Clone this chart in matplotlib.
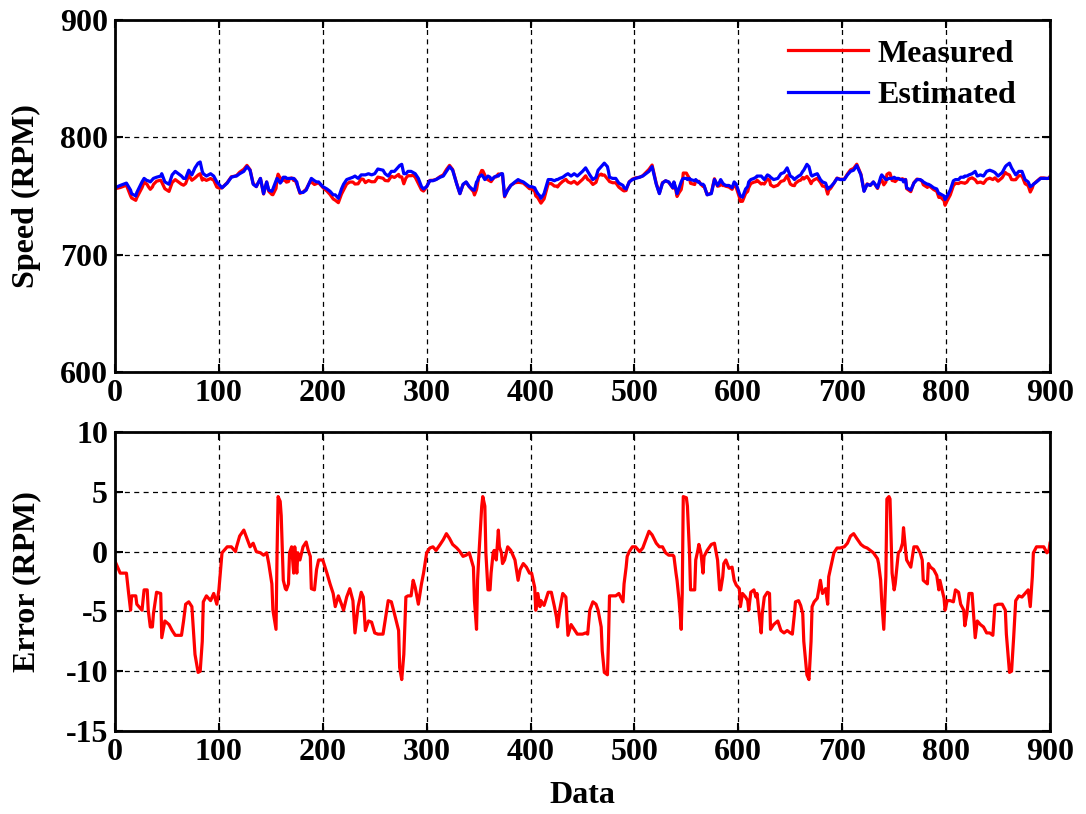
import numpy as np
import matplotlib
matplotlib.use("Agg")
import matplotlib.pyplot as plt

plt.rcParams['font.family'] = ['Liberation Serif', 'DejaVu Serif']
plt.rcParams['font.weight'] = 'bold'
plt.rcParams['axes.labelweight'] = 'bold'
plt.rcParams['axes.unicode_minus'] = False

# ---- data ----
sample_idx = [
    0, 5, 11, 13, 15, 16, 20, 21, 26, 28,
    31, 32, 34, 36, 37, 40, 44, 45, 48, 52,
    55, 58, 64, 66, 68, 71, 74, 76, 77, 80,
    82, 84, 85, 88, 92, 95, 98, 100,
    103, 108, 112, 116, 117, 120, 124, 127, 130, 133,
    136, 140, 143, 146, 148, 151, 152, 155, 156, 157,
    159, 160, 162, 164, 165, 167, 168, 170, 172, 173,
    175, 176, 178, 181, 184, 186, 188, 189, 192, 194,
    196,
    200, 204, 207, 210, 212, 215, 218, 220, 223, 226,
    229, 231, 234, 237, 239, 241, 244, 247, 250, 253,
    258, 260, 263, 266, 269, 273, 274, 276, 278, 280,
    282, 285, 287, 289, 292, 295, 297, 300, 303, 306,
    309, 313, 316, 319, 322, 325, 329, 332, 335, 338,
    341, 345, 346, 348, 349, 350, 353, 354, 356, 357,
    359, 361, 362, 364, 365, 367, 369, 370, 372, 373,
    375, 378, 381, 385, 388, 390, 393, 396, 399,
    401, 404, 405, 407, 409, 410, 413, 417, 420, 423,
    425, 426, 428, 431, 434, 436, 439, 442, 445, 450,
    453, 455, 457, 460, 463, 465, 468, 469, 471, 474,
    475, 476, 479, 482, 485, 489, 490, 492, 493, 495,
    498, 501, 505, 508, 511, 514, 517, 521, 524, 527,
    530, 533, 537, 538, 540, 541, 543, 545, 546, 547,
    550, 551, 553, 554, 558, 559, 561, 562, 564, 566,
    567, 570, 574, 577, 580, 582,
    583, 585, 586, 588, 591, 594, 596, 598, 601, 602,
    604, 607, 609, 610, 612, 615, 617, 618, 620, 622,
    623, 625, 628, 630, 631, 634, 638, 641, 644, 647,
    650, 652, 654, 655, 658, 660, 662, 663, 666, 668,
    670, 671, 673, 676, 679, 681, 684, 686, 687, 689,
    692, 695, 698, 702, 705, 708, 711, 714, 718, 721,
    724, 727, 730, 734, 735, 737, 738, 740, 742, 743,
    745, 746, 748, 750, 751, 753, 754, 756, 758, 759,
    761, 762, 766, 769, 772, 775, 777, 778, 782, 783,
    785, 788, 791, 793, 794, 798, 799, 801, 804, 807,
    809, 812, 814, 817, 818, 820, 822, 825, 828, 830,
    833, 836, 839, 842, 845, 847, 850, 854, 857, 858,
    861, 863, 865, 867, 870, 873, 876, 879, 881, 883,
    884, 887, 891, 894, 897, 899, 900,
]

error_rpm = [
    -0.8, -1.8, -1.8, -3.4, -4.9, -3.7, -3.7, -4.4, -4.9, -3.2,
    -3.2, -4.9, -6.3, -6.3, -5.2, -3.4, -3.5, -7.2, -5.8, -6.1,
    -6.6, -7.0, -7.0, -5.8, -4.4, -4.2, -4.6, -7.2, -8.6, -10.1,
    -10.0, -7.5, -4.2, -3.7, -4.1, -3.5, -4.4, -3.2,
    -0.1, 0.4, 0.4, 0.0, 0.4, 1.3, 1.8, 1.1, 0.4, 0.7,
    0.0, -0.1, -0.3, -0.1, -1.0, -2.7, -4.9, -6.5, -0.1, 4.6,
    4.2, 3.0, -2.4, -3.1, -3.2, -2.7, -0.1, 0.4, -1.8, 0.4,
    -1.8, -0.1, -0.7, 0.4, 0.8, 0.1, -0.4, -3.1, -3.2, -1.5,
    -0.7,
    -0.7, -1.8, -2.7, -3.5, -4.6, -3.7, -4.4, -4.9, -3.8, -3.1,
    -4.1, -6.8, -4.6, -3.4, -3.8, -6.6, -5.8, -5.9, -6.8, -6.9,
    -6.9, -5.8, -4.1, -4.2, -5.2, -6.6, -9.7, -10.7, -8.6, -3.8,
    -3.7, -3.7, -2.4, -3.0, -4.4, -2.7, -1.8, -0.1, 0.3, 0.4,
    0.1, 0.6, 1.0, 1.5, 1.1, 0.6, 0.3, 0.0, -0.4, -0.3,
    -0.1, -1.3, -4.1, -6.5, -2.4, -0.7, 3.8, 4.6, 3.8, -0.1,
    -3.2, -3.2, -1.8, -0.1, 0.1, -0.7, 1.8, 0.4, -0.1, -1.0,
    -0.7, 0.4, 0.1, -0.7, -2.4, -1.5, -1.0, -1.3, -1.8,
    -1.8, -3.0, -4.9, -3.5, -4.6, -4.1, -4.5, -3.4, -3.4, -4.6,
    -5.5, -6.3, -4.9, -3.5, -3.8, -7.0, -6.1, -6.5, -6.9, -6.9,
    -6.8, -6.9, -4.9, -4.2, -4.4, -4.9, -6.3, -8.3, -10.1, -10.3,
    -7.5, -3.7, -3.7, -3.7, -3.5, -4.2, -2.7, -1.3, -0.4, 0.0,
    0.4, 0.4, 0.0, 0.3, 1.0, 1.7, 1.4, 0.7, 0.4, 0.4,
    -0.1, -0.3, -0.3, -0.4, -1.8, -2.4, -4.1, -6.5, -3.5, 4.6,
    4.5, 3.8, -0.1, -3.2, -3.2, -0.7, 0.1, 0.6, -0.1, -1.8,
    -0.4, 0.1, 0.6, 0.7, -0.7, -3.2,
    -3.2, -2.1, -1.0, -0.7, -1.4, -1.3, -2.4, -2.8, -3.1, -4.6,
    -3.5, -3.8, -4.1, -4.9, -3.4, -3.2, -3.8, -3.5, -5.2, -6.8,
    -5.2, -3.8, -3.4, -3.5, -6.5, -6.1, -5.8, -6.6, -6.8, -6.6,
    -6.8, -6.9, -5.2, -4.2, -4.1, -4.5, -5.2, -7.5, -10.3, -10.7,
    -7.5, -4.6, -4.2, -3.9, -2.4, -3.5, -3.1, -4.4, -2.1, -1.3,
    -0.1, 0.3, 0.3, 0.4, 0.7, 1.3, 1.5, 1.1, 0.6, 0.4,
    0.3, 0.1, -0.1, -0.6, -1.0, -2.4, -4.1, -6.5, -2.1, 4.4,
    4.6, 4.4, -1.8, -3.2, -2.7, -1.0, -0.1, 0.1, 0.7, 2.0,
    0.1, -0.7, -1.3, 0.4, 0.4, -0.1, -0.7, -2.4, -2.7, -1.0,
    -1.3, -1.5, -2.0, -3.2, -2.4, -3.9, -4.9, -4.1, -4.1, -4.2,
    -3.2, -3.4, -4.4, -4.9, -6.2, -5.2, -3.5, -3.5, -7.2, -5.8,
    -6.1, -6.3, -6.8, -6.8, -7.0, -4.5, -4.4, -4.4, -4.9, -6.9,
    -10.1, -10.0, -7.2, -4.1, -3.7, -3.8, -3.5, -3.2, -4.6, -2.1,
    -0.1, 0.4, 0.4, 0.4, -0.1, 0.1, 0.7,
]

estimated_rpm = [
    757, 759, 761, 758, 755, 752, 750, 753, 762, 765,
    763, 763, 762, 764, 765, 766, 767, 769, 762, 760,
    768, 771, 767, 765, 765, 772, 768, 772, 774, 778,
    779, 771, 769, 767, 769, 767, 762, 760,
    757, 761, 766, 767, 767, 769, 771, 775, 772, 760,
    758, 765, 752, 762, 755, 754, 756, 763, 765, 764,
    761, 762, 766, 766, 765, 765, 765, 765, 765, 764,
    762, 758, 753, 753, 755, 759, 763, 765, 763, 762,
    762,
    758, 756, 754, 751, 751, 748, 756, 760, 764, 765,
    766, 767, 765, 768, 768, 768, 769, 768, 769, 773,
    772, 769, 767, 771, 771, 775, 776, 777, 769, 769,
    771, 771, 770, 769, 765, 758, 756, 758, 763, 763,
    764, 766, 767, 771, 775, 772, 760, 752, 760, 762,
    758, 755, 755, 762, 763, 766, 768, 767, 764, 765,
    767, 766, 764, 765, 766, 767, 767, 768, 769, 769,
    750, 755, 759, 762, 764, 763, 762, 760, 758,
    758, 757, 755, 752, 750, 748, 752, 764, 764, 763,
    764, 764, 765, 766, 768, 769, 767, 769, 767, 771,
    774, 771, 768, 764, 766, 772, 775, 776, 778, 775,
    771, 766, 765, 765, 761, 759, 757, 756, 758, 762,
    764, 765, 766, 767, 769, 771, 775, 760, 752, 761,
    763, 762, 757, 762, 756, 752, 757, 762, 764, 765,
    765, 764, 765, 764, 763, 764, 762, 762, 760, 760,
    759, 751, 752, 764, 759, 762,
    764, 761, 760, 759, 759, 757, 762, 760, 752, 750,
    749, 756, 758, 762, 764, 765, 766, 767, 767, 767,
    766, 764, 768, 767, 766, 764, 765, 769, 770, 774,
    767, 766, 764, 765, 767, 768, 771, 772, 777, 775,
    768, 767, 768, 769, 764, 762, 761, 756, 757, 758,
    761, 765, 764, 764, 768, 771, 772, 776, 768, 754,
    760, 759, 762, 757, 760, 766, 768, 766, 764, 764,
    765, 765, 765, 766, 765, 765, 765, 764, 764, 762,
    764, 757, 755, 761, 764, 764, 763, 762, 760, 760,
    759, 757, 756, 752, 752, 750, 747, 750, 755, 763,
    764, 764, 766, 766, 767, 767, 768, 769, 771, 767,
    768, 767, 771, 772, 771, 770, 767, 770, 775, 776,
    778, 774, 771, 768, 771, 771, 764, 762, 758, 759,
    760, 762, 765, 765, 765, 765, 766,
]

x = np.array(sample_idx, dtype=float)
err = np.array(error_rpm)
est = np.array(estimated_rpm, dtype=float)
meas = est + err   # error = measured - estimated

x_ticks = [0, 100, 200, 300, 400, 500, 600, 700, 800, 900]
speed_ticks = [600, 700, 800, 900]
error_ticks = [-15, -10, -5, 0, 5, 10]

# ---- figure ----
W, H = 1086, 814
fig = plt.figure(figsize=(W / 100, H / 100), dpi=100)
left, right = 115, 1050
ax1 = fig.add_axes([left / W, 1 - 372 / H, (right - left) / W, (372 - 20) / H])
ax2 = fig.add_axes([left / W, 1 - 731 / H, (right - left) / W, (731 - 432) / H])

FS = 23
for ax in (ax1, ax2):
    ax.set_xlim(0, 900)
    ax.set_xticks(x_ticks)
    ax.grid(True, color='black', linestyle=(0, (4, 3.5)), linewidth=0.9)
    ax.tick_params(direction='in', length=6, width=1.5, top=True, right=True,
                   labelsize=FS, pad=5)
    for s in ax.spines.values():
        s.set_linewidth(2.0)

ax1.plot(x, meas, color='#ff0000', linewidth=2.3, label='Measured')
ax1.plot(x, est, color='#0000ff', linewidth=2.3, label='Estimated')
ax1.set_ylim(600, 900)
ax1.set_yticks(speed_ticks)
ax1.set_ylabel('Speed (RPM)', fontsize=FS, fontweight='bold')
ax1.yaxis.set_label_coords(-0.079, 0.5)
ax1.legend(loc='upper right', frameon=False,
           handlelength=2.5, handletextpad=0.3, borderaxespad=0.2,
           labelspacing=0.38, bbox_to_anchor=(0.984, 1.0),
           prop={'weight': 'bold', 'size': FS})

ax2.plot(x, err, color='#ff0000', linewidth=2.3)
ax2.set_ylim(-15, 10)
ax2.set_yticks(error_ticks)
ax2.set_ylabel('Error (RPM)', fontsize=FS, fontweight='bold')
ax2.yaxis.set_label_coords(-0.079, 0.5)
ax2.set_xlabel('Data', fontsize=FS, fontweight='bold', labelpad=10)

for ax in (ax1, ax2):
    for lab in ax.get_xticklabels() + ax.get_yticklabels():
        lab.set_fontweight('bold')

fig.savefig('out.png', dpi=100)
